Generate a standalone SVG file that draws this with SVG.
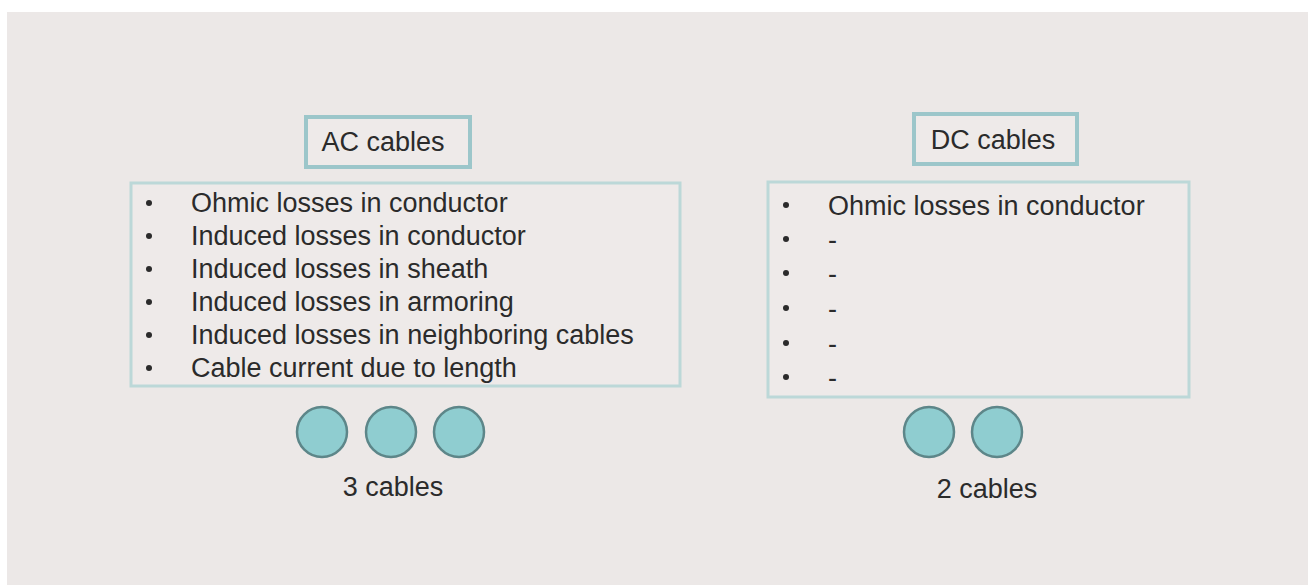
<svg xmlns="http://www.w3.org/2000/svg" width="1309" height="585" viewBox="0 0 1309 585">
<style>
.t{font-family:"Liberation Sans",Arial,sans-serif;font-size:27px;fill:#2b2b2b}
.title{fill:#eeeae9;stroke:#9cc6ca;stroke-width:4}
.list{fill:#eeeae9;stroke:#bcd8d8;stroke-width:3}
.cable{fill:#8fcdd0;stroke:#5d8689;stroke-width:2.5}
.b{fill:#2b2b2b}
</style>
<rect x="0" y="0" width="1309" height="585" fill="#ffffff"/>
<rect x="7" y="12" width="1301" height="573" fill="#ece8e7"/>
<g id="ac-title">
<rect class="title" x="306" y="117" width="164" height="50"/>
<text class="t" x="383" y="151" text-anchor="middle">AC cables</text>
</g>
<g id="ac-list">
<rect class="list" x="131" y="183" width="549" height="203"/>
<g class="b">
<circle cx="149" cy="203" r="3"/>
<circle cx="149" cy="236" r="3"/>
<circle cx="149" cy="269" r="3"/>
<circle cx="149" cy="302" r="3"/>
<circle cx="149" cy="335" r="3"/>
<circle cx="149" cy="368" r="3"/>
</g>
<text class="t" x="191" y="212">Ohmic losses in conductor</text>
<text class="t" x="191" y="245">Induced losses in conductor</text>
<text class="t" x="191" y="278">Induced losses in sheath</text>
<text class="t" x="191" y="311">Induced losses in armoring</text>
<text class="t" x="191" y="344">Induced losses in neighboring cables</text>
<text class="t" x="191" y="377">Cable current due to length</text>
</g>
<g id="ac-cables">
<circle class="cable" cx="322" cy="432" r="25"/>
<circle class="cable" cx="391" cy="432" r="25"/>
<circle class="cable" cx="459" cy="432" r="25"/>
<text class="t" x="393" y="496" text-anchor="middle">3 cables</text>
</g>
<g id="dc-title">
<rect class="title" x="914" y="114" width="163" height="50"/>
<text class="t" x="993" y="149" text-anchor="middle">DC cables</text>
</g>
<g id="dc-list">
<rect class="list" x="768" y="182" width="421" height="215"/>
<g class="b">
<circle cx="786" cy="205" r="3"/>
<circle cx="786" cy="239" r="3"/>
<circle cx="786" cy="273" r="3"/>
<circle cx="786" cy="308" r="3"/>
<circle cx="786" cy="343" r="3"/>
<circle cx="786" cy="377" r="3"/>
</g>
<text class="t" x="828" y="215">Ohmic losses in conductor</text>
<text class="t" x="828" y="249">-</text>
<text class="t" x="828" y="283">-</text>
<text class="t" x="828" y="318">-</text>
<text class="t" x="828" y="353">-</text>
<text class="t" x="828" y="387">-</text>
</g>
<g id="dc-cables">
<circle class="cable" cx="929" cy="432" r="25"/>
<circle class="cable" cx="997" cy="432" r="25"/>
<text class="t" x="987" y="498" text-anchor="middle">2 cables</text>
</g>
<g id="connectors"></g>
</svg>
